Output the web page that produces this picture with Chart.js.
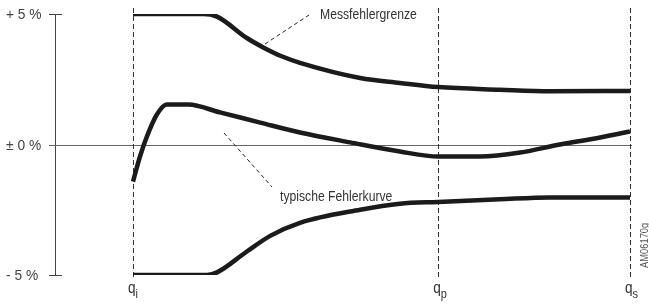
<!DOCTYPE html>
<html>
<head>
<meta charset="utf-8">
<script src="https://cdn.jsdelivr.net/npm/chart.js@4/dist/chart.umd.min.js"></script>
<style>
  body { margin: 0; background: #fff; }
  canvas { display: block; }
</style>
</head>
<body>
<canvas id="chart" width="649" height="304"></canvas>
<script>
// flow axis: q_i = 0, q_s = 100 (relative)
const flowMarks = [0, 61.4, 100];
const flowSubs = ['i', 'p', 's'];

const yTicks = [5, 0, -5];
const yTickLabels = ['+ 5 %', '\u00b1 0 %', '- 5 %'];

// Messfehlergrenze (upper / lower)
const upperX = [0, 14.1, 16.9, 22.9, 26.2, 29.9, 33.6, 45.7, 53.7, 61.4, 73.8, 83.9, 100];
const upperY = [5.0, 5.0, 4.9, 4.08, 3.72, 3.38, 3.13, 2.55, 2.36, 2.2, 2.1, 2.04, 2.05];
const lowerX = [0, 14.9, 16.9, 22.9, 27.6, 33.6, 45.7, 53.7, 61.4, 73.8, 83.9, 100];
const lowerY = [-5.0, -5.0, -4.9, -4.1, -3.5, -3.0, -2.5, -2.27, -2.2, -2.1, -2.03, -2.03];

// typische Fehlerkurve
const typX = [0, 1.4, 2.8, 4.8, 6.8, 11.1, 17.5, 25.6, 33.6, 43.7, 53.7, 61.4, 69.8, 77.9, 85.9, 94, 100];
const typY = [-1.42, -0.46, 0.31, 1.15, 1.53, 1.53, 1.23, 0.84, 0.46, 0.08, -0.27, -0.46, -0.46, -0.31, 0.0, 0.27, 0.5];

const pts = (xs, ys) => xs.map((x, i) => ({ x: x, y: ys[i] }));

const font = '"Liberation Sans", Arial, sans-serif';

// condensed look: draw a larger font squeezed horizontally
function condText(ctx, text, x, y, size, sx) {
    ctx.save();
    ctx.translate(x, y);
    ctx.scale(sx, 1);
    ctx.font = size + 'px ' + font;
    ctx.fillText(text, 0, 0);
    ctx.restore();
}

const curveStyle = {
    borderColor: '#1b1b1b',
    borderWidth: 4.5,
    pointRadius: 0,
    fill: false,
    cubicInterpolationMode: 'monotone',
    borderCapStyle: 'butt',
    borderJoinStyle: 'round'
};

const decor = {
    id: 'decor',
    beforeDatasetsDraw(chart) {
        const ctx = chart.ctx;
        const xs = chart.scales.x, ys = chart.scales.y;
        const axX = chart.chartArea.left;
        ctx.save();
        // y axis
        ctx.strokeStyle = '#444';
        ctx.lineWidth = 1;
        ctx.beginPath();
        ctx.moveTo(axX + 0.5, ys.getPixelForValue(5));
        ctx.lineTo(axX + 0.5, ys.getPixelForValue(-5));
        ctx.stroke();
        // ticks + labels
        ctx.fillStyle = '#444';
        ctx.textBaseline = 'middle';
        yTicks.forEach((v, i) => {
            const py = Math.round(ys.getPixelForValue(v)) + 0.5;
            ctx.beginPath();
            ctx.moveTo(axX - 6, py);
            ctx.lineTo(v === 0 ? chart.chartArea.right : axX + 7, py);
            ctx.strokeStyle = v === 0 ? '#666' : '#444';
            ctx.stroke();
            condText(ctx, yTickLabels[i], 6, py, 14.5, 0.95);
        });
        // dashed flow markers
        ctx.strokeStyle = '#333';
        ctx.setLineDash([5, 3]);
        flowMarks.forEach(v => {
            const px = Math.round(xs.getPixelForValue(v)) + 0.5;
            ctx.beginPath();
            ctx.moveTo(px, 8);
            ctx.lineTo(px, 279);
            ctx.stroke();
        });
        ctx.restore();
    },
    afterDatasetsDraw(chart) {
        const ctx = chart.ctx;
        const xs = chart.scales.x;
        ctx.save();
        ctx.fillStyle = '#333';
        ctx.textBaseline = 'alphabetic';
        flowMarks.forEach((v, i) => {
            const px = xs.getPixelForValue(v);
            ctx.font = '16px ' + font;
            const w = ctx.measureText('q').width * 0.85;
            const x0 = px - 5;
            condText(ctx, 'q', x0, 293, 16, 0.85);
            condText(ctx, flowSubs[i], x0 + w, 298, 13, 0.85);
        });
        // annotations
        ctx.textBaseline = 'middle';
        condText(ctx, 'Messfehlergrenze', 320, 15, 14, 0.87);
        condText(ctx, 'typische Fehlerkurve', 280, 197, 14, 0.87);
        ctx.strokeStyle = '#222';
        ctx.lineWidth = 1;
        ctx.setLineDash([4, 3]);
        ctx.beginPath();
        ctx.moveTo(265, 44);
        ctx.lineTo(309, 15);
        ctx.moveTo(224, 133);
        ctx.lineTo(272, 187);
        ctx.stroke();
        ctx.setLineDash([]);
        // figure id
        ctx.translate(648, 268);
        ctx.rotate(-Math.PI / 2);
        ctx.fillStyle = '#555';
        ctx.textBaseline = 'alphabetic';
        condText(ctx, 'AM06170g', 0, 0, 11, 0.85);
        ctx.restore();
    }
};

new Chart(document.getElementById('chart'), {
    type: 'line',
    data: {
        datasets: [
            Object.assign({ label: 'upper', data: pts(upperX, upperY) }, curveStyle),
            Object.assign({ label: 'lower', data: pts(lowerX, lowerY) }, curveStyle),
            Object.assign({ label: 'typisch', data: pts(typX, typY) }, curveStyle)
        ]
    },
    options: {
        responsive: false,
        animation: false,
        layout: { padding: { left: 55, right: 17, top: 14, bottom: 29 } },
        plugins: { legend: { display: false }, tooltip: { enabled: false } },
        scales: {
            x: { type: 'linear', display: false, min: -15.7, max: 100.4 },
            y: { display: false, min: -5, max: 5 }
        }
    },
    plugins: [decor]
});
</script>
</body>
</html>
